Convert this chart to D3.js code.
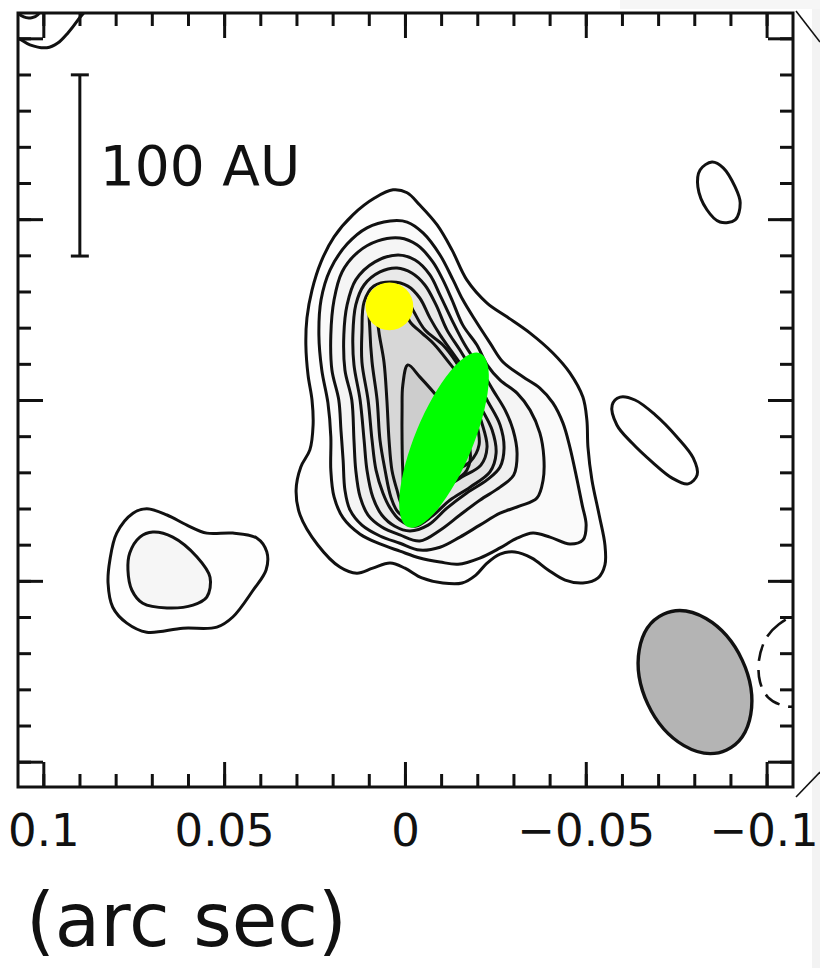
<!DOCTYPE html>
<html>
<head>
<meta charset="utf-8">
<script src="https://cdn.jsdelivr.net/npm/d3@7"></script>
<style>
  body { margin: 0; background: #fff; }
  svg text { font-family: "DejaVu Sans", sans-serif; }
</style>
</head>
<body>
<script>
var w = 820, h = 968;

// all offsets in milli-arcsec (east +, north +)
// main source, outermost level first
var level1 = [[3.3,58.1],[-0.6,57.3],[-4.1,53.9],[-8.9,48.4],[-13.0,41.5],[-17.1,33.2],[-22.7,26.8],[-28.2,23.0],[-34.6,18.5],[-40.9,13.0],[-45.6,7.5],[-49.2,0.8],[-50.3,-5.5],[-50.6,-13.0],[-51.7,-22.1],[-53.7,-31.8],[-55.3,-40.1],[-55.3,-45.6],[-53.4,-49.2],[-49.2,-50.6],[-44.3,-49.8],[-39.6,-47.0],[-35.1,-43.7],[-30.4,-42.0],[-26.3,-42.6],[-22.7,-45.1],[-19.6,-48.4],[-15.8,-50.6],[-10.5,-50.6],[-4.7,-49.2],[0,-46.5],[4.1,-45.1],[8.9,-46.5],[13.3,-47.9],[18.0,-46.2],[24.1,-40.1],[29.0,-31.8],[30.1,-24.9],[28.8,-18.5],[26.3,-13.8],[25.4,-6.9],[25.7,0],[26.8,6.9],[27.4,15.2],[27.1,22.7],[25.7,30.4],[23.2,38.2],[19.6,45.1],[14.4,51.2],[8.3,55.9]];
var level2 = [[4.1,49.5],[-0.6,49.2],[-5.0,46.2],[-9.7,40.1],[-13.3,33.2],[-16.0,27.7],[-19.4,22.1],[-23.5,15.8],[-27.1,10.5],[-32.6,6.4],[-37.3,3.3],[-40.9,-0.8],[-43.7,-6.4],[-45.6,-13.0],[-47.6,-22.1],[-49.0,-29.0],[-50.1,-34.6],[-49.2,-38.7],[-45.6,-39.8],[-40.1,-37.9],[-35.4,-36.8],[-31.0,-38.2],[-26.3,-40.9],[-20.7,-43.7],[-14.7,-45.4],[-9.7,-44.8],[-4.1,-43.7],[1.4,-41.8],[6.9,-39.8],[12.4,-37.1],[17.1,-32.6],[19.6,-26.8],[20.5,-19.4],[20.5,-10.2],[21.3,-0.8],[23.0,8.3],[23.8,18.0],[23.2,27.7],[20.7,36.0],[16.0,43.1],[10.5,47.6]];
var level3 = [[1.4,44.8],[-3.3,42.9],[-7.7,38.2],[-10.5,33.2],[-13.0,27.7],[-16.0,20.7],[-19.9,15.2],[-22.7,9.7],[-26.3,5.5],[-31.0,1.9],[-34.6,-2.8],[-37.3,-9.1],[-38.4,-15.8],[-38.2,-22.1],[-36.5,-27.1],[-31.8,-29.3],[-26.3,-31.3],[-20.7,-34.6],[-15.2,-37.9],[-9.7,-40.7],[-4.1,-41.5],[1.4,-39.6],[6.9,-37.6],[11.9,-34.6],[15.2,-30.4],[16.6,-24.9],[17.1,-16.6],[17.7,-8.3],[18.3,0],[20.2,8.3],[20.5,18.0],[19.6,27.7],[17.4,35.4],[13.0,40.9],[7.5,44.0]];
var level4 = [[1.9,40.1],[-2.8,38.7],[-6.9,34.6],[-9.7,29.0],[-13.0,22.1],[-16.6,15.2],[-20.7,8.9],[-24.3,2.8],[-27.7,-2.8],[-29.9,-8.3],[-31.0,-14.7],[-30.1,-20.7],[-26.3,-24.1],[-20.7,-27.7],[-15.2,-31.8],[-9.7,-36.0],[-4.1,-39.0],[1.4,-37.3],[6.4,-35.1],[10.2,-31.8],[12.4,-26.8],[13.6,-19.4],[14.1,-11.1],[14.7,0],[16.6,8.3],[16.9,18.0],[16.0,26.3],[13.6,33.2],[8.3,38.2]];
var level5 = [[2.2,36.5],[-1.9,35.1],[-5.5,31.8],[-8.6,26.3],[-11.6,19.4],[-15.2,13.8],[-18.8,7.7],[-22.7,0],[-26.3,-6.9],[-27.4,-13.3],[-26.3,-18.5],[-22.7,-22.1],[-17.1,-25.7],[-11.6,-29.9],[-6.4,-34.6],[-1.4,-36.2],[2.8,-34.9],[6.4,-31.8],[8.9,-26.8],[10.5,-19.4],[11.3,-11.1],[12.4,0],[14.1,9.7],[14.4,18.0],[13.6,26.3],[11.3,31.8],[6.9,35.4]];
var level6 = [[3.6,32.6],[-0.8,31.5],[-4.1,28.2],[-6.9,22.7],[-9.7,18.0],[-13.0,13.3],[-16.9,7.5],[-20.7,-1.4],[-24.1,-8.3],[-25.2,-14.7],[-23.5,-19.9],[-18.0,-24.1],[-12.4,-27.7],[-7.5,-32.1],[-2.8,-34.9],[1.4,-33.2],[4.1,-29.9],[6.1,-25.7],[8.0,-19.4],[9.1,-11.1],[10.2,0],[11.9,10.5],[11.9,18.8],[11.3,27.1],[8.6,31.5]];
var level7 = [[4.1,30.4],[0,28.8],[-2.5,24.3],[-5.5,19.4],[-10.5,15.2],[-14.1,10.5],[-18.0,3.3],[-21.0,-5.5],[-22.7,-13.0],[-21.0,-18.0],[-15.2,-21.6],[-9.7,-25.4],[-5.5,-29.9],[-1.4,-32.6],[1.9,-31.0],[3.9,-26.8],[5.5,-19.4],[6.9,-11.1],[7.7,0],[9.1,10.5],[9.7,19.4],[9.7,26.3],[7.5,29.6]];
var level8 = [[4.1,27.7],[0.6,26.3],[-1.4,21.6],[-4.7,18.5],[-8.0,15.5],[-11.6,11.1],[-16.6,4.1],[-19.6,-5.5],[-20.5,-12.4],[-18.0,-17.1],[-12.4,-20.2],[-8.3,-24.1],[-4.1,-28.2],[-1.4,-30.4],[0.8,-29.0],[2.2,-24.9],[3.6,-19.4],[4.4,-11.1],[5.0,0],[5.8,10.5],[7.2,18.8],[7.7,24.3],[6.6,27.1]];
var level9 = [[-0.8,9.7],[-4.1,6.4],[-9.7,0],[-14.7,-6.9],[-18.0,-13.8],[-17.1,-19.4],[-12.4,-23.2],[-6.9,-26.6],[-2.2,-28.5],[0,-26.0],[0.6,-19.4],[0.8,-11.1],[0.8,-2.8],[0.6,4.1]];
var mainLevels = [level1, level2, level3, level4, level5, level6, level7, level8, level9];
var levelGreys = ["#fefefe", "#fafafa", "#f5f5f5", "#efefef", "#e9e9e9", "#e3e3e3", "#dddddd", "#d7d7d7", "#cdcdcd"];

// secondary sources
var westBlobOuter = [[81.6,-44.3],[79.7,-36.8],[75.2,-31.3],[71.4,-30.1],[65.8,-31.8],[60.3,-34.6],[54.8,-36.8],[47.6,-36.8],[40.9,-38.2],[38.2,-42.0],[38.4,-47.0],[42.0,-52.6],[47.6,-60.0],[52.0,-62.8],[61.4,-63.1],[71.4,-64.2],[76.9,-61.7],[80.8,-57.3],[82.1,-50.6]];
var westBlobInner = [[76.1,-42.3],[73.3,-37.9],[69.7,-36.5],[64.2,-37.9],[57.5,-43.4],[53.9,-49.0],[54.8,-54.5],[58.6,-56.7],[65.8,-57.5],[72.5,-56.2],[75.5,-52.6],[76.6,-47.0]];
var northEastBlob = [[-81.6,63.6],[-84.9,65.8],[-88.0,64.2],[-91.3,58.9],[-92.7,54.5],[-91.3,49.8],[-87.1,49.2],[-83.5,52.6],[-81.0,58.9]];
var eastBlob = [[-57.3,-1.4],[-59.5,0.8],[-63.6,0],[-69.2,-4.1],[-75.2,-10.2],[-79.7,-16.0],[-80.8,-20.7],[-78.3,-23.2],[-73.9,-21.6],[-68.3,-17.1],[-62.8,-11.9],[-58.6,-6.9]];
var cornerArc = [[110.6,101.8],[107.0,100.1],[103.7,98.2],[99.0,97.4],[96.0,98.7],[93.2,101.5],[90.4,105.1],[87.7,109.3],[95.4,112.0],[110.6,112.0]];
var cornerLoop = [[107.0,107.3],[105.4,105.9],[103.2,105.7],[101.5,106.5],[101.0,107.9],[106.5,108.4]];
var negativeLevel = [[-107.3,-60.0],[-103.4,-62.0],[-99.9,-65.8],[-97.9,-71.9],[-98.2,-78.0],[-100.4,-82.2],[-104.3,-84.4],[-108.1,-84.6],[-113.4,-80.2],[-114.2,-66.4],[-111.5,-60.9]];

// beam, markers, scale bar
var beam = {x: -80.2, y: -78.0, major: 20.7, minor: 14.4, angle: -25};
var greenMark = {x: -10.8, y: -11.1, major: 26.0, minor: 8.0, angle: 22.5};
var yellowMark = {x: 4.3, y: 25.9, r: 6.6};
var scaleBar = {x: 89.9, y0: 39.8, y1: 89.9, label: "100 AU"};

// ticks
var minorTicks = d3.range(-100, 101, 10);
var majorTicks = [100, 50, 0, -50, -100];
var axisTitle = "(arc sec)";

var xScale = d3.scaleLinear().domain([107, -107.3]).range([18, 793]);
var yScale = d3.scaleLinear().domain([107, -107]).range([13, 787]);

var ink = "#111";
var lw = 3;

var svg = d3.select("body").append("svg")
  .attr("width", w)
  .attr("height", h);

svg.append("rect").attr("width", w).attr("height", h).attr("fill", "#fff");
// scanned page edge
svg.append("rect").attr("x", 812).attr("y", 0).attr("width", 8).attr("height", h).attr("fill", "#f3f3f3");
svg.append("rect").attr("x", 620).attr("y", 0).attr("width", 200).attr("height", 9).attr("fill", "#f6f6f6");

svg.append("clipPath").attr("id", "frame")
  .append("rect")
  .attr("x", 18).attr("y", 13).attr("width", 775).attr("height", 774);

var contourLine = d3.line()
  .x(function(d) { return xScale(d[0]); })
  .y(function(d) { return yScale(d[1]); })
  .curve(d3.curveCatmullRomClosed.alpha(0.5));

var plot = svg.append("g").attr("clip-path", "url(#frame)");

// filled levels
plot.selectAll("path.fill")
  .data(mainLevels)
  .enter().append("path")
  .attr("class", "fill")
  .attr("d", contourLine)
  .attr("fill", function(d, i) { return levelGreys[i]; });

plot.append("path").datum(westBlobOuter).attr("d", contourLine).attr("fill", "#fefefe");
plot.append("path").datum(westBlobInner).attr("d", contourLine).attr("fill", "#f6f6f6");

// contour lines
var lines = [].concat(mainLevels, [westBlobOuter, westBlobInner, northEastBlob, eastBlob, cornerArc, cornerLoop]);
plot.selectAll("path.level")
  .data(lines)
  .enter().append("path")
  .attr("class", "level")
  .attr("d", contourLine)
  .attr("fill", "none")
  .attr("stroke", ink)
  .attr("stroke-width", lw)
  .attr("stroke-linejoin", "round");

plot.append("path")
  .datum(negativeLevel)
  .attr("d", contourLine)
  .attr("fill", "none")
  .attr("stroke", ink)
  .attr("stroke-width", 2.6)
  .attr("stroke-dasharray", "17,9");

// beam and markers
function ellipseMark(e, fill) {
  var g = plot.append("g")
    .attr("transform", "translate(" + xScale(e.x) + "," + yScale(e.y) + ") rotate(" + e.angle + ")");
  return g.append("ellipse")
    .attr("rx", Math.abs(xScale(e.minor) - xScale(0)))
    .attr("ry", Math.abs(yScale(e.major) - yScale(0)))
    .attr("fill", fill);
}
ellipseMark(beam, "#b4b4b4").attr("stroke", ink).attr("stroke-width", 3.4);
ellipseMark(greenMark, "#00ff00");

plot.append("circle")
  .attr("cx", xScale(yellowMark.x))
  .attr("cy", yScale(yellowMark.y))
  .attr("r", Math.abs(xScale(yellowMark.r) - xScale(0)))
  .attr("fill", "#ffff00");

// scale bar
var sb = svg.append("g").attr("stroke", ink).attr("stroke-width", lw);
sb.append("line")
  .attr("x1", xScale(scaleBar.x)).attr("x2", xScale(scaleBar.x))
  .attr("y1", yScale(scaleBar.y0)).attr("y2", yScale(scaleBar.y1));
[scaleBar.y0, scaleBar.y1].forEach(function(v) {
  sb.append("line")
    .attr("x1", xScale(scaleBar.x) - 9).attr("x2", xScale(scaleBar.x) + 9)
    .attr("y1", yScale(v)).attr("y2", yScale(v));
});
svg.append("text")
  .attr("x", xScale(scaleBar.x) + 20)
  .attr("y", yScale(scaleBar.y1) + 110)
  .attr("font-size", 55)
  .attr("fill", ink)
  .text(scaleBar.label);

// axes, ticks on all four sides pointing in
var fmt = function(d) { return d3.format("~g")(d / 1000); };

function styleAxis(g) {
  g.select(".domain").remove();
  g.selectAll(".tick line").attr("stroke", ink).attr("stroke-width", lw);
}

svg.append("g").attr("transform", "translate(0,787)")
  .call(d3.axisBottom(xScale).tickValues(minorTicks).tickSize(-13).tickFormat(""))
  .call(styleAxis);
svg.append("g").attr("transform", "translate(0,787)")
  .call(d3.axisBottom(xScale).tickValues(majorTicks).tickSize(-25).tickPadding(27).tickFormat(fmt))
  .call(styleAxis)
  .call(function(g) {
    g.selectAll("text")
      .attr("font-size", 45)
      .attr("font-family", "DejaVu Sans")
      .attr("fill", ink)
      .attr("dx", function(d) { return d === -100 ? -3 : 0; });
  });

svg.append("g").attr("transform", "translate(0,13)")
  .call(d3.axisTop(xScale).tickValues(minorTicks).tickSize(-13).tickFormat(""))
  .call(styleAxis);
svg.append("g").attr("transform", "translate(0,13)")
  .call(d3.axisTop(xScale).tickValues(majorTicks).tickSize(-25).tickFormat(""))
  .call(styleAxis);

svg.append("g").attr("transform", "translate(18,0)")
  .call(d3.axisLeft(yScale).tickValues(minorTicks).tickSize(-13).tickFormat(""))
  .call(styleAxis);
svg.append("g").attr("transform", "translate(18,0)")
  .call(d3.axisLeft(yScale).tickValues(majorTicks).tickSize(-25).tickFormat(""))
  .call(styleAxis);

svg.append("g").attr("transform", "translate(793,0)")
  .call(d3.axisRight(yScale).tickValues(minorTicks).tickSize(-13).tickFormat(""))
  .call(styleAxis);
svg.append("g").attr("transform", "translate(793,0)")
  .call(d3.axisRight(yScale).tickValues(majorTicks).tickSize(-25).tickFormat(""))
  .call(styleAxis);

// frame
svg.append("rect")
  .attr("x", 18).attr("y", 13).attr("width", 775).attr("height", 774)
  .attr("fill", "none")
  .attr("stroke", ink)
  .attr("stroke-width", lw);

// zoom connector lines to the next panel
svg.append("line").attr("x1", 796).attr("y1", 11).attr("x2", w).attr("y2", 42)
  .attr("stroke", ink).attr("stroke-width", 1.6);
svg.append("line").attr("x1", 796).attr("y1", 797).attr("x2", w).attr("y2", 772)
  .attr("stroke", ink).attr("stroke-width", 1.6);

// axis title
svg.append("text")
  .attr("x", 26)
  .attr("y", 946)
  .attr("font-size", 74)
  .attr("fill", ink)
  .text(axisTitle);
</script>
</body>
</html>
